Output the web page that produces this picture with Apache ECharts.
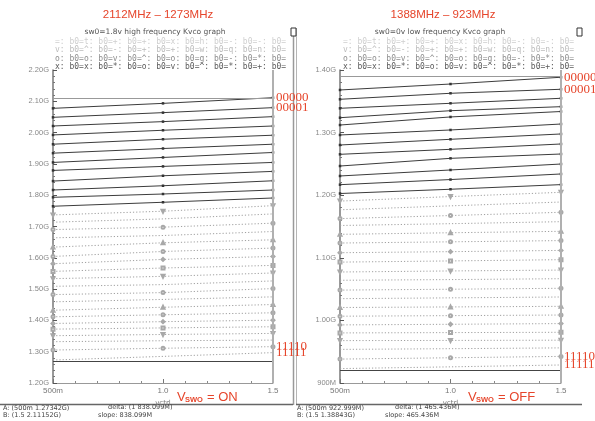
<!DOCTYPE html>
<html>
<head>
<meta charset="utf-8">
<script src="https://cdn.jsdelivr.net/npm/echarts@6/dist/echarts.min.js"></script>
<style>
html, body { margin: 0; padding: 0; background: #fff; }
#chart { width: 595px; height: 421px; }
</style>
</head>
<body>
<div id="chart"></div>
<script>
// bank codes, top line first
const codes = ['00000', '00001', '00010', '00011', '00100', '00101', '00110', '00111',
  '01000', '01001', '01010', '01011', '01100', '01101', '01110', '01111',
  '10000', '10001', '10010', '10011', '10100', '10101', '10110', '10111',
  '11000', '11001', '11010', '11011', '11100', '11101', '11110', '11111']
const vctrl = [0.5, 1.0, 1.5]

// sw0 = 1.8v, high band (GHz)
const hfAt500m = [2.0775, 2.0488, 2.0211, 1.9925, 1.9629, 1.9343, 1.9047, 1.8792, 1.8452, 1.8166, 1.7933, 1.7647,
  1.7370, 1.7138, 1.6902, 1.6638, 1.6342, 1.6043, 1.5811, 1.5566, 1.5334, 1.5089, 1.4825, 1.4593,
  1.4325, 1.4115, 1.3902, 1.3721, 1.3511, 1.3320, 1.3053, 1.2734]
const hfAt1v0 = [2.0934, 2.0638, 2.0351, 2.0075, 1.9788, 1.9492, 1.9206, 1.8920, 1.8621, 1.8302, 1.8038, 1.7774,
  1.7488, 1.7243, 1.6979, 1.6712, 1.6479, 1.6202, 1.5948, 1.5674, 1.5407, 1.5143, 1.4888, 1.4670,
  1.4420, 1.4180, 1.3960, 1.3760, 1.3550, 1.3350, 1.3110, 1.2850]
const hfAt1v5 = [2.1115, 2.0797, 2.0510, 2.0211, 1.9916, 1.9629, 1.9365, 1.9047, 1.8761, 1.8461, 1.8166, 1.7911,
  1.7666, 1.7402, 1.7106, 1.6839, 1.6575, 1.6311, 1.6043, 1.5757, 1.5515, 1.5261, 1.5016, 1.4752,
  1.4507, 1.4243, 1.4007, 1.3797, 1.3584, 1.3371, 1.3161, 1.2970]

// sw0 = 0v, low band (GHz)
const lfAt500m = [1.3681, 1.3532, 1.3388, 1.3238, 1.3121, 1.2962, 1.2802, 1.2653, 1.2466, 1.2307, 1.2168, 1.2027,
  1.1906, 1.1767, 1.1626, 1.1516, 1.1375, 1.1236, 1.1081, 1.0931, 1.0773, 1.0641, 1.0484, 1.0347,
  1.0206, 1.0067, 0.9928, 0.9800, 0.9677, 0.9537, 0.9382, 0.9230]
const lfAt1v0 = [1.3776, 1.3628, 1.3468, 1.3350, 1.3250, 1.3042, 1.2893, 1.2733, 1.2589, 1.2403, 1.2250, 1.2095,
  1.1978, 1.1830, 1.1675, 1.1545, 1.1400, 1.1255, 1.1098, 1.0950, 1.0790, 1.0652, 1.0498, 1.0360,
  1.0215, 1.0076, 0.9938, 0.9805, 0.9680, 0.9548, 0.9403, 0.9258]
const lfAt1v5 = [1.3884, 1.3692, 1.3548, 1.3414, 1.3337, 1.3137, 1.2978, 1.2818, 1.2658, 1.2498, 1.2339, 1.2169,
  1.2046, 1.1891, 1.1727, 1.1577, 1.1423, 1.1275, 1.1118, 1.0970, 1.0804, 1.0666, 1.0513, 1.0374,
  1.0225, 1.0086, 0.9949, 0.9810, 0.9684, 0.9561, 0.9425, 0.9288]

// cursors A (500m) / B (1.5)
const hfCursor = [1.27342, 2.11152]
const lfCursor = [0.922999, 1.38843]
const hfReadout = ['A: (500m 1.27342G)', 'B: (1.5 2.11152G)', 'delta: (1 838.099M)', 'slope: 838.099M']
const lfReadout = ['A: (500m 922.999M)', 'B: (1.5 1.38843G)', 'delta: (1 465.436M)', 'slope: 465.436M']

const xTickText = { 0.5: '500m', 1: '1.0', 1.5: '1.5' }
const legendRows = [
  '=: b0=t: b0=+: b0=+: b0=x: b0=h: b0=-: b0=-: b0=',
  'v: b0=^: b0=-: b0=+: b0=+: b0=w: b0=q: b0=n: b0=',
  'o: b0=o: b0=v: b0=^: b0=o: b0=g: b0=-: b0=*: b0=',
  'x: b0=x: b0=*: b0=o: b0=v: b0=^: b0=*: b0=+: b0='
]

const RED = '#e6452b'
const hollow = ['emptyTriangle', 'emptyCircle', 'emptyDiamond', 'emptyRect', 'emptyTriangle', 'none', 'emptyCircle', 'none']

function lines(idx, lo, mid, hi, cursor) {
  return codes.map((c, i) => {
    const solid = i < 12
    const s = {
      type: 'line',
      name: c,
      xAxisIndex: idx,
      yAxisIndex: idx,
      data: [[vctrl[0], lo[i]], [vctrl[1], mid[i]], [vctrl[2], hi[i]]],
      symbol: solid ? 'rect' : hollow[i % hollow.length],
      symbolSize: solid ? 2.5 : 3,
      symbolRotate: !solid && i % 8 === 4 ? 180 : 0,
      lineStyle: { color: solid ? '#3c3c3c' : '#a0a0a0', width: 1, type: solid ? 'solid' : [1.2, 2] },
      itemStyle: { color: solid ? '#333' : '#a8a8a8', borderWidth: 0.7 },
      silent: true,
    }
    if (i < 2 || i > 29) {
      s.endLabel = {
        show: true, formatter: c, color: RED, distance: 3,
        fontFamily: 'Liberation Serif', fontSize: 13,
      }
    }
    if (i === 0) {
      s.markLine = {
        symbol: 'none', silent: true, label: { show: false },
        lineStyle: { type: 'solid', width: 1, color: '#444' },
        data: [
          { yAxis: cursor[1], lineStyle: { color: '#999' } },
          { yAxis: cursor[0] },
          { xAxis: 1.5, lineStyle: { color: '#b0b0b0', width: 2 } },
        ],
      }
    }
    return s
  })
}

function yAx(idx, min, max) {
  return {
    type: 'value', gridIndex: idx, min: min, max: max, interval: 0.1,
    axisLine: { show: true, lineStyle: { color: '#777', width: 1.5 } },
    axisTick: { show: true, inside: true, length: 4, lineStyle: { color: '#555' } },
    minorTick: { show: true, splitNumber: 5, length: 2, lineStyle: { color: '#777' } },
    splitLine: { show: false },
    axisLabel: {
      margin: 4, color: '#888', fontSize: 7.5, fontFamily: 'Liberation Sans',
      formatter: v => v >= 0.999 ? v.toFixed(2) + 'G' : Math.round(v * 1000) + 'M',
    },
  }
}

function xAx(idx) {
  return {
    type: 'value', gridIndex: idx, min: 0.5, max: 1.5, interval: 0.5,
    name: 'vctrl', nameLocation: 'middle', nameGap: 15,
    nameTextStyle: { color: '#777', fontSize: 7, fontFamily: 'DejaVu Sans' },
    axisLine: { show: true, onZero: false, lineStyle: { color: '#999', width: 1 } },
    axisTick: { show: true, inside: true, length: 4, lineStyle: { color: '#777' } },
    minorTick: { show: true, splitNumber: 5, length: 2, lineStyle: { color: '#888' } },
    splitLine: { show: false },
    axisLabel: {
      margin: 4, color: '#777', fontSize: 8, fontFamily: 'Liberation Sans',
      formatter: v => xTickText[v] || '',
    },
  }
}

function txt(x, y, text, o) {
  return {
    type: 'text', x: x, y: y, silent: true,
    style: Object.assign({ text: text, fill: '#555', fontSize: 7, fontFamily: 'DejaVu Sans', align: 'left', verticalAlign: 'middle' }, o || {}),
  }
}

function header(cx, x0, title, sub, iconX) {
  const g = [
    txt(cx, 15, title, { fill: RED, fontSize: 11.5, fontFamily: 'Liberation Sans', align: 'center' }),
    txt(cx - 3, 32, sub, { fill: '#555', fontSize: 7.5, align: 'center' }),
    { type: 'rect', silent: true, shape: { x: iconX, y: 28, width: 5, height: 8 }, style: { fill: '#fff', stroke: '#333', lineWidth: 1 } },
  ]
  const shades = ['#cfcfcf', '#bdbdbd', '#8e8e8e', '#5a5a5a']
  legendRows.forEach((r, k) => {
    g.push(txt(x0, 42 + k * 8.3, r, { fill: shades[k], fontSize: 8, fontFamily: 'DejaVu Sans Mono' }))
  })
  return g
}

function vsw(x, state) {
  return [
    txt(x, 397, 'V', { fill: RED, fontSize: 13, fontFamily: 'Liberation Sans' }),
    txt(x + 8, 399.5, 'SWO', { fill: RED, fontSize: 7.5, fontWeight: 'bold', fontFamily: 'Liberation Sans' }),
    txt(x + 30, 397, '= ' + state, { fill: RED, fontSize: 13, fontFamily: 'Liberation Sans' }),
  ]
}

function readout(x, dx, r) {
  return [
    txt(x, 408, r[0], { fill: '#444', fontSize: 6.5 }),
    txt(x, 415, r[1], { fill: '#444', fontSize: 6.5 }),
    txt(x + dx, 407, r[2], { fill: '#444', fontSize: 6.5 }),
    txt(x + dx - 10, 415, r[3], { fill: '#444', fontSize: 6.5 }),
  ]
}

const frame = [
  { type: 'line', silent: true, shape: { x1: 293.5, y1: 28, x2: 293.5, y2: 405 }, style: { stroke: '#9a9a9a', lineWidth: 1.5 } },
  { type: 'line', silent: true, shape: { x1: 296.5, y1: 28, x2: 296.5, y2: 405 }, style: { stroke: '#b5b5b5', lineWidth: 1 } },
  { type: 'line', silent: true, shape: { x1: 0, y1: 404.5, x2: 293, y2: 404.5 }, style: { stroke: '#666', lineWidth: 1.5 } },
  { type: 'line', silent: true, shape: { x1: 296, y1: 404.5, x2: 582, y2: 404.5 }, style: { stroke: '#666', lineWidth: 1.5 } },
]

const chart = echarts.init(document.getElementById('chart'), null, { renderer: 'canvas' })
chart.setOption({
  backgroundColor: '#fff',
  animation: false,
  grid: [
    { left: 53, top: 70, width: 220, height: 313 },
    { left: 340, top: 70, width: 221, height: 313 },
  ],
  xAxis: [xAx(0), xAx(1)],
  yAxis: [yAx(0, 1.2, 2.2), yAx(1, 0.9, 1.4)],
  series: lines(0, hfAt500m, hfAt1v0, hfAt1v5, hfCursor).concat(lines(1, lfAt500m, lfAt1v0, lfAt1v5, lfCursor)),
  graphic: [].concat(
    frame,
    header(158, 55, '2112MHz \u2013 1273MHz', 'sw0=1.8v high frequency Kvco graph', 291),
    header(443, 343, '1388MHz \u2013 923MHz', 'sw0=0v low frequency Kvco graph', 577),
    vsw(177, 'ON'),
    vsw(468, 'OFF'),
    readout(3, 105, hfReadout),
    readout(297, 98, lfReadout)
  ),
})
</script>
</body>
</html>
